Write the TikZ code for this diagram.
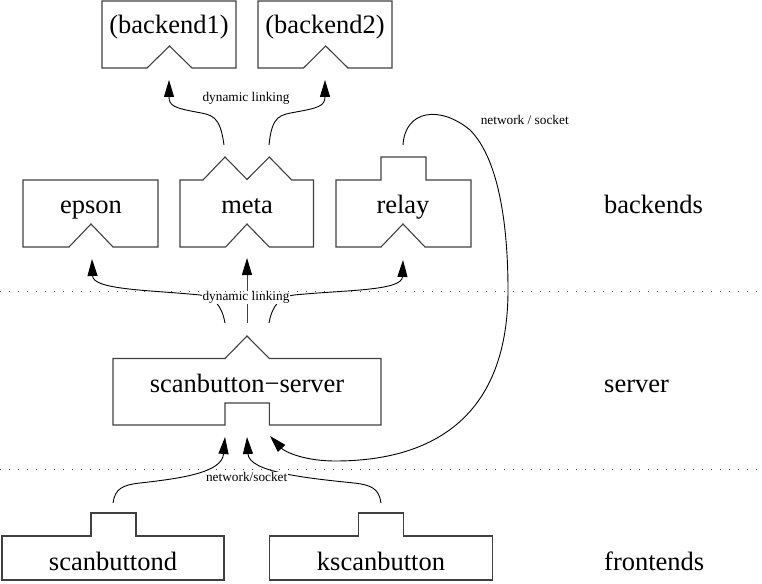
\documentclass[tikz,border=0pt]{standalone}
\usepackage{fontspec}
\setmainfont{Liberation Serif}
\usetikzlibrary{arrows.meta}
\tikzset{
  box/.style={draw=black!75, line width=1.1pt, line join=miter},
  bigtext/.style={font=\fontsize{26.5}{30}\selectfont, inner sep=0pt, anchor=base},
  smalltext/.style={font=\fontsize{13.3}{15}\selectfont, inner sep=0.6pt},
  lbl/.style={smalltext, fill=white},
  conn/.style={draw=black, line width=0.9pt, -{Triangle[length=17pt,width=10pt,color=black]}},
  sep/.style={draw=black!70, line width=0.9pt, dash pattern=on 1pt off 8pt},
}
\begin{document}
\begin{tikzpicture}[x=1pt,y=-1pt]
\useasboundingbox (0,0) rectangle (762,583);

% ---- boxes
% backend1
\draw[box] (102,1) -- (236,1) -- (236,68) -- (192,68) -- (169.5,46) -- (147,68) -- (102,68) -- cycle;
\node[bigtext] (b1) at (169,34) {(backend1)};
% backend2
\draw[box] (258,1) -- (392,1) -- (392,68) -- (348,68) -- (325.7,46) -- (303.5,68) -- (258,68) -- cycle;
\node[bigtext] (b2) at (325,34) {(backend2)};
% epson
\draw[box] (23,180) -- (158,180) -- (158,247) -- (113,247) -- (91,224) -- (69,247) -- (23,247) -- cycle;
\node[bigtext] (epson) at (91,213) {epson};
% meta
\draw[box] (180,180) -- (203,180) -- (225,157) -- (247,179.5) -- (269.3,157) -- (291.7,180) -- (313.5,180)
  -- (313.5,247) -- (269.3,247) -- (247,224) -- (225.7,247) -- (180,247) -- cycle;
\node[bigtext] (meta) at (247,213) {meta};
% relay
\draw[box] (336,180) -- (381,180) -- (381,157) -- (426,157) -- (426,180) -- (471,180)
  -- (471,247) -- (425,247) -- (403,224) -- (381,247) -- (336,247) -- cycle;
\node[bigtext] (relay) at (403,213) {relay};
% server
\draw[box] (113,358.5) -- (225,358.5) -- (247,336) -- (269.3,358.5) -- (381,358.5)
  -- (381,425) -- (269.3,425) -- (269.3,403) -- (225,403) -- (225,425) -- (113,425) -- cycle;
\node[bigtext] (server) at (247,392) {scanbutton\textminus server};
% scanbuttond
\draw[box] (2,536) -- (91,536) -- (91,513) -- (136,513) -- (136,536) -- (224,536) -- (224,580) -- (2,580) -- cycle;
\node[bigtext] (sbd) at (113,570) {scanbuttond};
% kscanbutton
\draw[box] (269.5,536) -- (358.3,536) -- (358.3,513) -- (403.3,513) -- (403.3,536) -- (492.3,536) -- (492.3,580) -- (269.5,580) -- cycle;
\node[bigtext] (ksb) at (381,570) {kscanbutton};

% ---- layer labels
\node[bigtext, anchor=base west] (lb) at (604,213) {backends};
\node[bigtext, anchor=base west] (ls) at (604,392) {server};
\node[bigtext, anchor=base west] (lf) at (604,570) {frontends};

% ---- connection points
\coordinate (metaT1) at (224,145);
\coordinate (metaT2) at (269,145);
\coordinate (b1tip) at (169,80);
\coordinate (b2tip) at (325,80);
\coordinate (srvT1) at (225,323);
\coordinate (srvT2) at (247,323);
\coordinate (srvT3) at (269,323);
\coordinate (epstip) at (92,259);
\coordinate (metatip) at (247,258);
\coordinate (reltip) at (403,260);
\coordinate (relT) at (403,145);
\coordinate (srvB1) at (225,437);
\coordinate (srvB2) at (247,437);
\coordinate (srvB3) at (270,436);
\coordinate (sbdT) at (113,503);
\coordinate (ksbT) at (381,503);

% ---- connectors
\draw[conn] (metaT1) .. controls (220,115) and (212,115) .. (196,112)
  .. controls (175,108) and (169,106) .. (b1tip);
\draw[conn] (metaT2) .. controls (272,115) and (280,115) .. (296,112)
  .. controls (318,108) and (325,106) .. (b2tip);
\node[smalltext] (dl1) at (246,98) {dynamic linking};

\draw[conn] (srvT1) .. controls (222,306) and (214,296.5) .. (200,295)
  .. controls (150,290) and (93,290) .. (epstip);
\draw[conn, draw=black!75] (srvT2) -- (metatip);
\draw[conn] (srvT3) .. controls (272,306) and (280,296.5) .. (294,295)
  .. controls (344,290) and (402,291) .. (reltip);
\node[lbl] (dl2) at (246,297.5) {dynamic linking};

\draw[conn] (relT) .. controls (405,110) and (440,105) .. (470,130)
  .. controls (500,160) and (508,230) .. (508,290)
  .. controls (508,415) and (435,461) .. (335,461)
  .. controls (305,461) and (285,452) .. (srvB3);
\node[smalltext, anchor=west] (ns1) at (480,120) {network / socket};

\draw[conn] (sbdT) .. controls (115,489) and (122,485) .. (140,483)
  .. controls (185,478) and (222,472) .. (srvB1);
\draw[conn] (ksbT) .. controls (379,489) and (372,485) .. (354,483)
  .. controls (305,478) and (249,472) .. (srvB2);
\node[lbl] (ns2) at (246.7,477) {network/socket};

% ---- separators
\draw[sep] (0,291) -- (762,291);
\draw[sep] (0,469.3) -- (762,469.3);
\end{tikzpicture}
\end{document}
